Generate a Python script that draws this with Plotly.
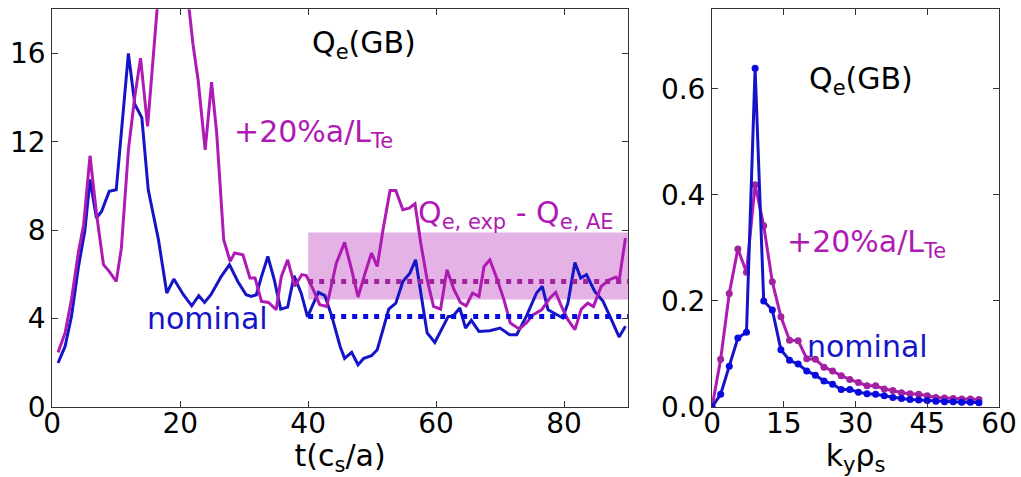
import plotly.graph_objects as go

# ---------------- Left panel: time traces ----------------
t_nom = [0.9, 2.0, 3.0, 4.1, 5.1, 5.9, 6.9, 7.7, 8.9, 10.0, 11.9, 12.9, 14.0, 15.0, 16.6,
         17.9, 19.0, 20.5, 21.8, 22.9, 23.8, 24.8, 26.4, 27.7, 29.0, 30.3, 31.1, 31.9, 32.7,
         33.7, 34.7, 35.7, 36.8, 37.8, 38.9, 39.9, 41.6, 42.6, 43.7, 45.0, 45.7, 46.8, 47.8,
         48.7, 49.9, 50.8, 51.7, 52.6, 53.7, 54.8, 55.9, 56.8, 57.7, 58.6, 59.8, 60.8, 61.9,
         62.6, 63.7, 64.6, 65.5, 66.7, 68.4, 70.0, 71.5, 72.6, 74.1, 75.7, 76.6, 77.5, 78.8,
         79.8, 80.6, 81.7, 82.6, 83.5, 84.8, 86.1, 87.4, 88.6, 89.6]
q_nom = [1.99, 2.74, 4.1, 6.36, 8.0, 10.3, 8.55, 8.85, 9.76, 9.83, 16.0, 13.7, 13.1, 9.83, 7.57,
         5.16, 5.79, 5.08, 4.58, 5.04, 4.73, 5.08, 5.9, 6.44, 5.68, 5.08, 5.0, 5.08, 5.9,
         6.81, 5.76, 4.43, 4.52, 5.94, 5.16, 4.08, 5.19, 5.04, 4.1, 2.74, 2.2, 2.47, 1.91,
         2.2, 2.32, 2.59, 3.5, 4.43, 4.7, 5.68, 6.06, 6.66, 5.0, 3.35, 2.92, 3.5, 4.1,
         4.1, 4.48, 3.57, 3.92, 3.42, 3.45, 3.57, 3.27, 3.27, 4.1, 5.16, 5.46, 4.4, 4.18,
         4.03, 4.7, 6.54, 5.84, 5.99, 5.23, 4.78, 3.95, 3.17, 3.65]

t_hi = [0.9, 2.0, 3.0, 4.1, 4.9, 5.9, 6.9, 8.0, 8.9, 10.0, 10.8, 11.9, 12.9, 13.8, 14.9,
        15.8, 16.4, 18.8, 21.4, 22.0, 22.8, 23.9, 24.9, 25.7, 26.8, 27.8, 28.5, 29.8, 30.9,
        31.7, 32.7, 33.8, 35.0, 35.8, 36.8, 37.9, 39.0, 39.7, 40.8, 41.8, 42.9, 44.4, 45.7,
        46.8, 47.8, 48.9, 49.9, 50.8, 51.7, 52.8, 53.7, 54.8, 55.8, 56.7, 57.6, 58.6, 59.6,
        60.7, 61.7, 62.8, 63.8, 64.7, 65.7, 66.7, 67.5, 68.4, 69.4, 70.6, 71.6, 73.0, 74.1,
        75.2, 76.5, 77.8, 78.7, 79.6, 80.6, 81.7, 82.7, 83.7, 84.6, 85.8, 87.1, 88.1, 88.6,
        89.6]
q_hi = [2.47, 3.35, 4.86, 7.04, 8.25, 11.37, 8.78, 6.44, 6.14, 5.68, 7.19, 11.64, 14.05, 15.79, 12.7,
        15.7, 18.05, 22.0, 18.0, 16.4, 14.8, 11.64, 14.7, 12.4, 7.57, 6.59, 6.97, 6.89, 5.84,
        5.84, 4.78, 4.73, 4.4, 5.9, 6.66, 5.46, 5.99, 5.95, 5.31, 4.63, 4.55, 6.51, 7.45,
        6.21, 4.98, 6.06, 6.97, 6.36, 8.02, 9.8, 9.8, 8.93, 9.0, 9.2, 7.42, 5.76, 4.55,
        4.43, 6.21, 5.31, 4.73, 4.58, 5.16, 5.0, 6.36, 6.66, 5.9, 4.86, 3.8, 3.53, 3.8,
        4.18, 4.4, 4.93, 5.19, 4.55, 3.95, 3.5, 4.43, 4.7, 4.55, 5.46, 5.76, 5.88, 5.7,
        7.65]

# averages and experimental band (t from 40 to 90)
avg_t = [40, 90]
avg_nom = 4.1
avg_hi = 5.68
band_lo = 4.86
band_hi = 7.9

# ---------------- Right panel: spectra ----------------
ky = [0.0, 1.8, 3.6, 5.4, 7.2, 9.0, 10.8, 12.6, 14.4, 16.2, 18.0, 19.8, 21.6, 23.4, 25.2, 27.0,
      28.8, 30.6, 32.4, 34.2, 36.0, 37.8, 39.6, 41.4, 43.2, 45.0, 46.8, 48.6, 50.4, 52.2, 54.0, 55.8]
s_nom = [0.0, 0.024, 0.077, 0.13, 0.141, 0.639, 0.2, 0.183, 0.108, 0.088, 0.081, 0.068, 0.06, 0.049,
         0.043, 0.033, 0.033, 0.028, 0.025, 0.024, 0.021, 0.018, 0.016, 0.014, 0.013, 0.012, 0.011,
         0.01, 0.01, 0.009, 0.009, 0.008]
s_hi = [0.0, 0.09, 0.214, 0.298, 0.254, 0.419, 0.342, 0.236, 0.17, 0.126, 0.125, 0.091, 0.09, 0.075,
        0.068, 0.059, 0.052, 0.046, 0.04, 0.04, 0.034, 0.031, 0.027, 0.025, 0.024, 0.021, 0.018,
        0.017, 0.016, 0.015, 0.015, 0.014]

left_yticks = [0, 4, 8, 12, 16]
left_xticks = [0, 20, 40, 60, 80]
right_yticks = [0.0, 0.2, 0.4, 0.6]
right_ytext = ["0.0", "0.2", "0.4", "0.6"]
right_xticks = [0, 15, 30, 45, 60]

BLUE = "#1515c8"
MAG = "#b01ab4"
MAG_DOT = "#a0229f"
BLUE_DOT = "#0a0ae0"
FONT = "DejaVu Sans"
FS = 28
FA = 30

fig = go.Figure()

# band
fig.add_shape(type="rect", xref="x", yref="y", x0=avg_t[0], x1=avg_t[1], y0=band_lo, y1=band_hi,
              fillcolor="rgba(204,102,204,0.5)", line=dict(width=0), layer="below")

fig.add_trace(go.Scatter(x=t_nom, y=q_nom, mode="lines", line=dict(color=BLUE, width=3),
                         xaxis="x", yaxis="y", showlegend=False))
fig.add_trace(go.Scatter(x=t_hi, y=q_hi, mode="lines", line=dict(color=MAG, width=3),
                         xaxis="x", yaxis="y", showlegend=False))
fig.add_trace(go.Scatter(x=avg_t, y=[avg_hi, avg_hi], mode="lines",
                         line=dict(color=MAG_DOT, width=5, dash="5px,6px"),
                         xaxis="x", yaxis="y", showlegend=False))
fig.add_trace(go.Scatter(x=avg_t, y=[avg_nom, avg_nom], mode="lines",
                         line=dict(color=BLUE_DOT, width=5, dash="5px,6px"),
                         xaxis="x", yaxis="y", showlegend=False))

fig.add_trace(go.Scatter(x=ky, y=s_hi, mode="lines+markers", line=dict(color=MAG, width=3),
                         marker=dict(color=MAG_DOT, size=7), xaxis="x2", yaxis="y2", showlegend=False))
fig.add_trace(go.Scatter(x=ky, y=s_nom, mode="lines+markers", line=dict(color=BLUE, width=3),
                         marker=dict(color=BLUE_DOT, size=7), xaxis="x2", yaxis="y2", showlegend=False))

axis_common = dict(showline=True, linecolor="#333333", linewidth=1, mirror="ticks", ticks="inside",
                   ticklen=6, tickcolor="#333333", showgrid=False, zeroline=False, automargin=False,
                   tickfont=dict(family=FONT, size=FS, color="black"))

fig.update_layout(
    width=1021, height=477, margin=dict(l=0, r=0, t=0, b=0, autoexpand=False),
    paper_bgcolor="white", plot_bgcolor="white",
    font=dict(family=FONT, size=FS, color="black"),
    xaxis=dict(domain=[0.0512, 0.6151], range=[0, 90], tickvals=left_xticks, ticklabelstandoff=-9,
               title=dict(text="t(c<sub>s</sub>/a)", font=dict(family=FONT, size=FA), standoff=2),
               anchor="y", **axis_common),
    yaxis=dict(domain=[0.1468, 0.9805], range=[0, 18], tickvals=left_yticks, anchor="x",
               **axis_common),
    xaxis2=dict(domain=[0.6974, 0.9785], range=[0, 60], tickvals=right_xticks, ticklabelstandoff=-9,
                title=dict(text="k<sub>y</sub>ρ<sub>s</sub>", font=dict(family=FONT, size=FA), standoff=2),
                anchor="y2", **axis_common),
    yaxis2=dict(domain=[0.1468, 0.9805], range=[0, 0.75], tickvals=right_yticks, ticktext=right_ytext,
                anchor="x2", **axis_common),
)

ann = [
    dict(x=48.7, y=16.4, xref="x", yref="y", text="Q<sub>e</sub>(GB)", color="black"),
    dict(x=40.9, y=12.4, xref="x", yref="y", text="+20%a/L<sub>Te</sub>", color=MAG),
    dict(x=72.5, y=8.7, xref="x", yref="y", text="Q<sub>e, exp</sub> - Q<sub>e, AE</sub>", color=MAG),
    dict(x=24.3, y=4.0, xref="x", yref="y", text="nominal", color=BLUE),
    dict(x=31.2, y=0.615, xref="x2", yref="y2", text="Q<sub>e</sub>(GB)", color="black"),
    dict(x=32.2, y=0.308, xref="x2", yref="y2", text="+20%a/L<sub>Te</sub>", color=MAG),
    dict(x=32.6, y=0.115, xref="x2", yref="y2", text="nominal", color=BLUE),
]
for a in ann:
    fig.add_annotation(x=a["x"], y=a["y"], xref=a["xref"], yref=a["yref"], text=a["text"],
                       showarrow=False, font=dict(family=FONT, size=FA, color=a["color"]))

fig.write_html("out.html")
